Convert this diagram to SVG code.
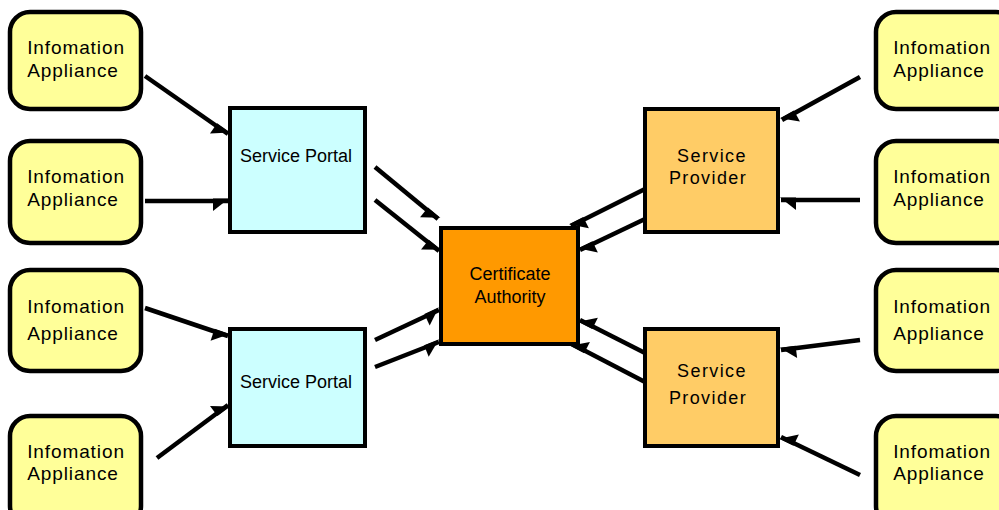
<svg xmlns="http://www.w3.org/2000/svg" width="999" height="510" viewBox="0 0 999 510">
  <style>
    .ia rect { fill: #FFFF99; stroke: #000; stroke-width: 4.5; }
    .sp rect { fill: #CCFFFF; stroke: #000; stroke-width: 4; }
    .pv rect { fill: #FFCC66; stroke: #000; stroke-width: 4; }
    .ca rect { fill: #FF9900; stroke: #000; stroke-width: 4; }
    text { font-family: "Liberation Sans", Arial, sans-serif; font-size: 18px; fill: #000; text-anchor: middle; }
    .ia text { font-size: 19px; letter-spacing: 0.9px; }
    .pv text { letter-spacing: 1.4px; }
    .conn line { stroke: #000; stroke-width: 4.5; }
  </style>
  <defs>
    <!-- half arrowheads: barb on the right-hand (hr) or left-hand (hl) side of the line -->
    <marker id="hr" markerUnits="userSpaceOnUse" markerWidth="24" markerHeight="24" viewBox="-18 -12 24 24" refX="0" refY="0" orient="auto" overflow="visible">
      <path d="M1,-2.5 L-15,-2.5 L-15,10 Z" fill="#000"/>
    </marker>
    <marker id="hl" markerUnits="userSpaceOnUse" markerWidth="24" markerHeight="24" viewBox="-18 -12 24 24" refX="0" refY="0" orient="auto" overflow="visible">
      <path d="M1,2.5 L-15,2.5 L-15,-10 Z" fill="#000"/>
    </marker>
  </defs>

  <!-- left appliances -->
  <g id="ia-l1" class="ia"><rect x="10" y="12" width="131" height="97" rx="20"/><text x="76" y="54">Infomation</text><text x="73" y="77">Appliance</text></g>
  <g id="ia-l2" class="ia"><rect x="10" y="141" width="131" height="102" rx="20"/><text x="76" y="183">Infomation</text><text x="73" y="206">Appliance</text></g>
  <g id="ia-l3" class="ia"><rect x="10" y="270" width="131" height="101" rx="20"/><text x="76" y="313">Infomation</text><text x="73" y="340">Appliance</text></g>
  <g id="ia-l4" class="ia"><rect x="10" y="416" width="131" height="110" rx="20"/><text x="76" y="458">Infomation</text><text x="73" y="480">Appliance</text></g>

  <!-- right appliances -->
  <g id="ia-r1" class="ia"><rect x="876" y="12" width="140" height="97" rx="20"/><text x="942" y="54">Infomation</text><text x="939" y="77">Appliance</text></g>
  <g id="ia-r2" class="ia"><rect x="876" y="141" width="140" height="102" rx="20"/><text x="942" y="183">Infomation</text><text x="939" y="206">Appliance</text></g>
  <g id="ia-r3" class="ia"><rect x="876" y="270" width="140" height="101" rx="20"/><text x="942" y="313">Infomation</text><text x="939" y="340">Appliance</text></g>
  <g id="ia-r4" class="ia"><rect x="876" y="416" width="140" height="110" rx="20"/><text x="942" y="458">Infomation</text><text x="939" y="480">Appliance</text></g>

  <!-- service portals -->
  <g id="portal-1" class="sp"><rect x="230" y="108" width="135" height="124"/><text x="296" y="162">Service Portal</text></g>
  <g id="portal-2" class="sp"><rect x="230" y="329" width="135" height="117"/><text x="296" y="388">Service Portal</text></g>

  <!-- certificate authority -->
  <g id="ca" class="ca"><rect x="441" y="228" width="137" height="116"/><text x="510" y="280">Certificate</text><text x="510" y="303">Authority</text></g>

  <!-- service providers -->
  <g id="provider-1" class="pv"><rect x="645" y="109" width="133" height="123"/><text x="712" y="162">Service</text><text x="708" y="184">Provider</text></g>
  <g id="provider-2" class="pv"><rect x="645" y="329" width="133" height="117"/><text x="712" y="377">Service</text><text x="708" y="404">Provider</text></g>

  <g id="connectors" class="conn">
    <!-- appliances to portals -->
    <line x1="145" y1="76" x2="228" y2="134" marker-end="url(#hr)"/>
    <line x1="145" y1="201" x2="228" y2="201" marker-end="url(#hr)"/>
    <line x1="145" y1="308" x2="228" y2="336" marker-end="url(#hr)"/>
    <line x1="157" y1="458" x2="228" y2="405" marker-end="url(#hl)"/>
    <!-- portals to authority -->
    <line x1="375" y1="167" x2="438" y2="219" marker-end="url(#hr)"/>
    <line x1="375" y1="200" x2="439" y2="251" marker-end="url(#hr)"/>
    <line x1="375" y1="340" x2="439" y2="310" marker-end="url(#hr)"/>
    <line x1="375" y1="367" x2="439" y2="342" marker-end="url(#hr)"/>
    <!-- providers to authority -->
    <line x1="645" y1="189" x2="571" y2="226" marker-end="url(#hl)"/>
    <line x1="645" y1="219" x2="580" y2="250" marker-end="url(#hl)"/>
    <line x1="645" y1="353" x2="580" y2="320" marker-end="url(#hr)"/>
    <line x1="645" y1="382" x2="572" y2="344" marker-end="url(#hr)"/>
    <!-- appliances to providers -->
    <line x1="860" y1="77" x2="782" y2="120" marker-end="url(#hl)"/>
    <line x1="860" y1="200" x2="781" y2="200" marker-end="url(#hl)"/>
    <line x1="860" y1="340" x2="781" y2="350" marker-end="url(#hl)"/>
    <line x1="860" y1="475" x2="781" y2="437" marker-end="url(#hr)"/>
  </g>
</svg>
